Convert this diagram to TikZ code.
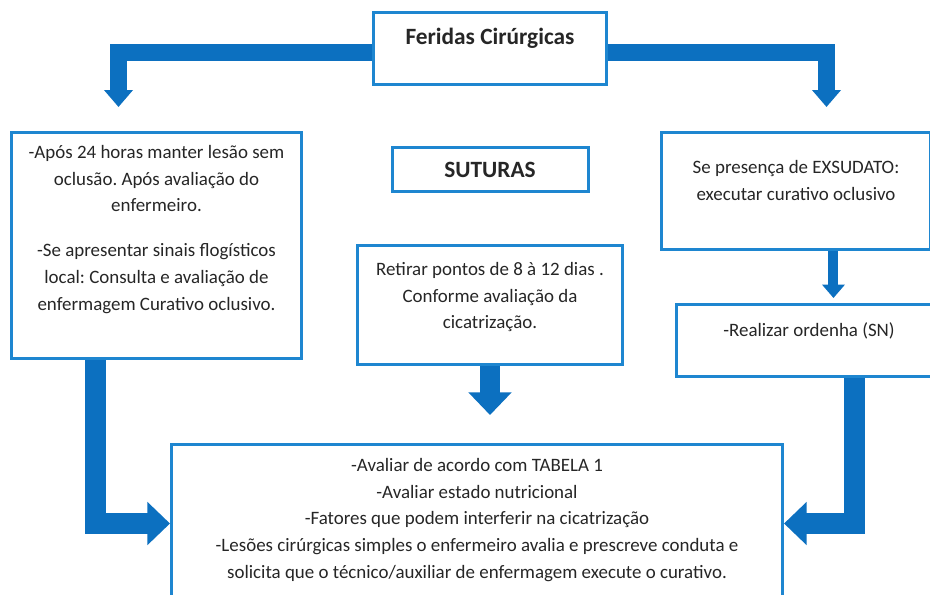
\documentclass[tikz,border=0pt]{standalone}
\usepackage{fontspec}
\setmainfont{Carlito}
\usepackage{tikz}
\usetikzlibrary{positioning, arrows.meta, backgrounds}

\definecolor{azulcaixa}{RGB}{30,134,208}
\definecolor{azulseta}{RGB}{12,112,192}
\definecolor{texto}{RGB}{38,38,38}

\frenchspacing
\newdimen\px \px=0.75pt
% caixa: largura, altura, altura da primeira linha, texto
\newcommand{\caixa}[4]{\parbox[c][#2\px][t]{#1\px}{\centering\rule{0pt}{#3\px}#4}}

\begin{document}
\begin{tikzpicture}[x=0.75pt, y=-0.75pt,
    bloco/.style={draw=azulcaixa, line width=2.25pt, fill=white, inner sep=0pt, text=texto, font=\fontsize{14.2}{20}\selectfont},
    cabeca/.style={bloco, font=\bfseries\fontsize{17.5}{21}\selectfont},
    seta/.style={azulseta, line width=12.75pt, -{Triangle[length=12.75pt, width=21pt]}},
    setafina/.style={azulseta, line width=7.5pt, -{Triangle[length=10pt, width=16.5pt]}},
    setagrossa/.style={azulseta, line width=15.5pt, -{Triangle[length=17pt, width=31.5pt]}}]
  \path[use as bounding box] (0,0) rectangle (930,594);
  \clip (0,0) rectangle (930,594);

  \node[cabeca, anchor=north west] (feridas) at (372,11) {\caixa{233}{72}{32}{Feridas Cirúrgicas}};
  \node[cabeca, below=45pt of feridas] (suturas) {\parbox[c][44\px][c]{196\px}{\centering SUTURAS}};
  \node[bloco, below=38.25pt of suturas] (pontos) {\caixa{265}{119}{30}{Retirar pontos de 8 à 12 dias .\\ Conforme avaliação da\\ cicatrização.}};
  \node[bloco, anchor=north west] (esq) at (10,131) {\caixa{290}{226}{26}{-Após 24 horas manter lesão sem\\ oclusão. Após avaliação do\\ enfermeiro.\\[13.7pt] -Se apresentar sinais flogísticos\\ local: Consulta e avaliação de\\ enfermagem Curativo oclusivo.}};
  \node[bloco, anchor=north west] (exsudato) at (660,131) {\caixa{269}{117}{41}{Se presença de EXSUDATO:\\ executar curativo oclusivo}};
  \node[bloco, anchor=north west] (ordenha) at (675,303) {\caixa{265}{72}{32}{-Realizar ordenha (SN)}};
  \node[bloco, anchor=north west] (avaliar) at (170,443) {\caixa{611}{158}{27}{-Avaliar de acordo com TABELA 1\\ -Avaliar estado nutricional\\ -Fatores que podem interferir na cicatrização\\ -Lesões cirúrgicas simples o enfermeiro avalia e prescreve conduta e\\ solicita que o técnico/auxiliar de enfermagem execute o curativo.}};

  \coordinate (pontaesq) at (118.5,107);
  \coordinate (pontadir) at (826.5,107);

  \begin{pgfonlayer}{background}
    \fill[white] (0,0) rectangle (930,594);
    \draw[seta] ([yshift=-3pt]feridas.west) -| (pontaesq);
    \draw[seta] ([yshift=-3pt]feridas.east) -| (pontadir);
    \draw[setafina, shorten >=3.75pt] ([xshift=28.1pt]exsudato.south) -- ([xshift=28.1pt]exsudato.south |- ordenha.north);
    \draw[setagrossa, shorten >=21pt] (pontos.south) -- (pontos.south |- avaliar.north);
    \draw[setagrossa] ([xshift=-45.75pt]esq.south) |- (avaliar.west);
    \draw[setagrossa] ([xshift=34.1pt]ordenha.south) |- (avaliar.east);
  \end{pgfonlayer}
\end{tikzpicture}
\end{document}
